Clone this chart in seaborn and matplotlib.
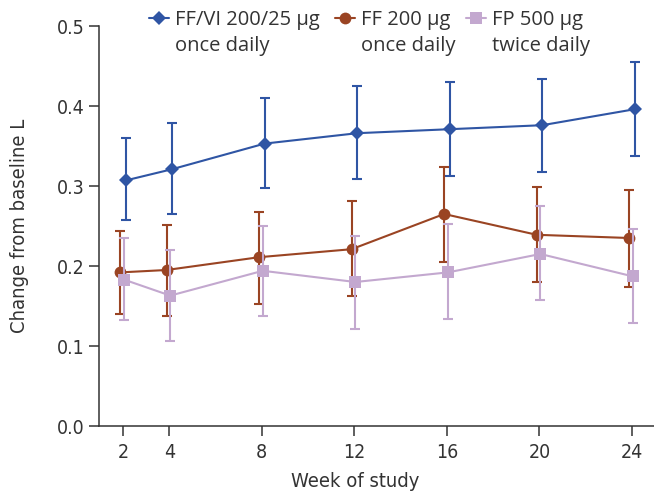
import numpy as np
import pandas as pd
import seaborn as sns
import matplotlib.pyplot as plt

# values
weeks = [2, 4, 8, 12, 16, 20, 24]

ffvi_mean = [0.307, 0.321, 0.353, 0.366, 0.371, 0.376, 0.396]
ffvi_low = [0.257, 0.265, 0.298, 0.309, 0.312, 0.317, 0.337]
ffvi_high = [0.360, 0.379, 0.410, 0.425, 0.430, 0.434, 0.455]

ff_mean = [0.192, 0.195, 0.211, 0.221, 0.265, 0.239, 0.235]
ff_low = [0.140, 0.137, 0.153, 0.163, 0.205, 0.180, 0.174]
ff_high = [0.244, 0.251, 0.268, 0.281, 0.324, 0.299, 0.295]

fp_mean = [0.183, 0.163, 0.194, 0.180, 0.192, 0.215, 0.187]
fp_low = [0.133, 0.106, 0.137, 0.121, 0.134, 0.157, 0.129]
fp_high = [0.235, 0.220, 0.250, 0.238, 0.252, 0.275, 0.246]

group_names = ["FF/VI 200/25 \u03bcg", "FF 200 \u03bcg", "FP 500 \u03bcg"]
group_doses = ["once daily", "once daily", "twice daily"]

sns.set_style("ticks")
plt.rcParams['font.family'] = ['DejaVu Sans']
plt.rcParams['font.stretch'] = 'condensed'
axis_color = "#333333"

fig = plt.figure(figsize=(6.54, 4.98), dpi=100)
ax = fig.add_axes([99 / 654, 1 - 426 / 498, 555 / 654, 400 / 498])

series = [
    (ffvi_mean, ffvi_low, ffvi_high, "#2F55A4", "D", 7, 0.12),
    (ff_mean, ff_low, ff_high, "#9A4423", "o", 8.5, -0.12),
    (fp_mean, fp_low, fp_high, "#C3A8CF", "s", 8, 0.04),
]

for i, (mean, low, high, color, marker, ms, dodge) in enumerate(series):
    df = pd.DataFrame({"week": np.array(weeks) + dodge, "change": mean,
                       "low": low, "high": high})
    ax.errorbar(df["week"], df["change"],
                yerr=[df["change"] - df["low"], df["high"] - df["change"]],
                fmt="none", ecolor=color, elinewidth=1.5, capsize=3.5,
                capthick=1.5, zorder=2 + i)
    sns.lineplot(data=df, x="week", y="change", color=color, marker=marker,
                 markersize=ms, markeredgewidth=0, linewidth=1.5,
                 label=group_names[i], ax=ax, zorder=2 + i)

ax.set_xlim(0.96, 24.95)
ax.set_ylim(0, 0.5)
ax.set_xticks(weeks)
ax.set_yticks([0.0, 0.1, 0.2, 0.3, 0.4, 0.5])
ax.set_yticklabels(["%.1f" % v for v in [0.0, 0.1, 0.2, 0.3, 0.4, 0.5]])
ax.tick_params(axis="both", labelsize=14, colors=axis_color, length=7,
               width=1.1, direction="out")
ax.tick_params(axis="x", pad=5)
ax.set_xlabel("Week of study", fontsize=14.5, color=axis_color)
ax.xaxis.set_label_coords((355 - 99) / 555, -46 / 400)
ax.set_ylabel("Change from baseline L", fontsize=14.5, color=axis_color, labelpad=20)
sns.despine(ax=ax)
for s in ["left", "bottom"]:
    ax.spines[s].set_color(axis_color)
    ax.spines[s].set_linewidth(1.1)

# legend across the top, second line of each label added under the first
handles, labels = ax.get_legend_handles_labels()
ax.get_legend().remove()
leg = fig.legend(handles, labels, ncol=3, loc="upper left",
                 bbox_to_anchor=(139 / 654, 1.0), frameon=False,
                 prop={"family": "Open Sans", "size": 14.5, "stretch": "normal"},
                 handlelength=1.0, handletextpad=0.3, columnspacing=0.75,
                 borderaxespad=0.1, labelcolor="#333333")
fig.canvas.draw()
renderer = fig.canvas.get_renderer()
inv = fig.transFigure.inverted()
for t, dose in zip(leg.get_texts(), group_doses):
    bb = t.get_window_extent(renderer)
    x0, y0 = inv.transform((bb.x0, (bb.y0 + bb.y1) / 2 - 26))
    fig.text(x0, y0, dose, ha="left", va="center", color="#333333",
             family="Open Sans", stretch="normal", fontsize=14.5)

fig.savefig("out.png", dpi=100)
